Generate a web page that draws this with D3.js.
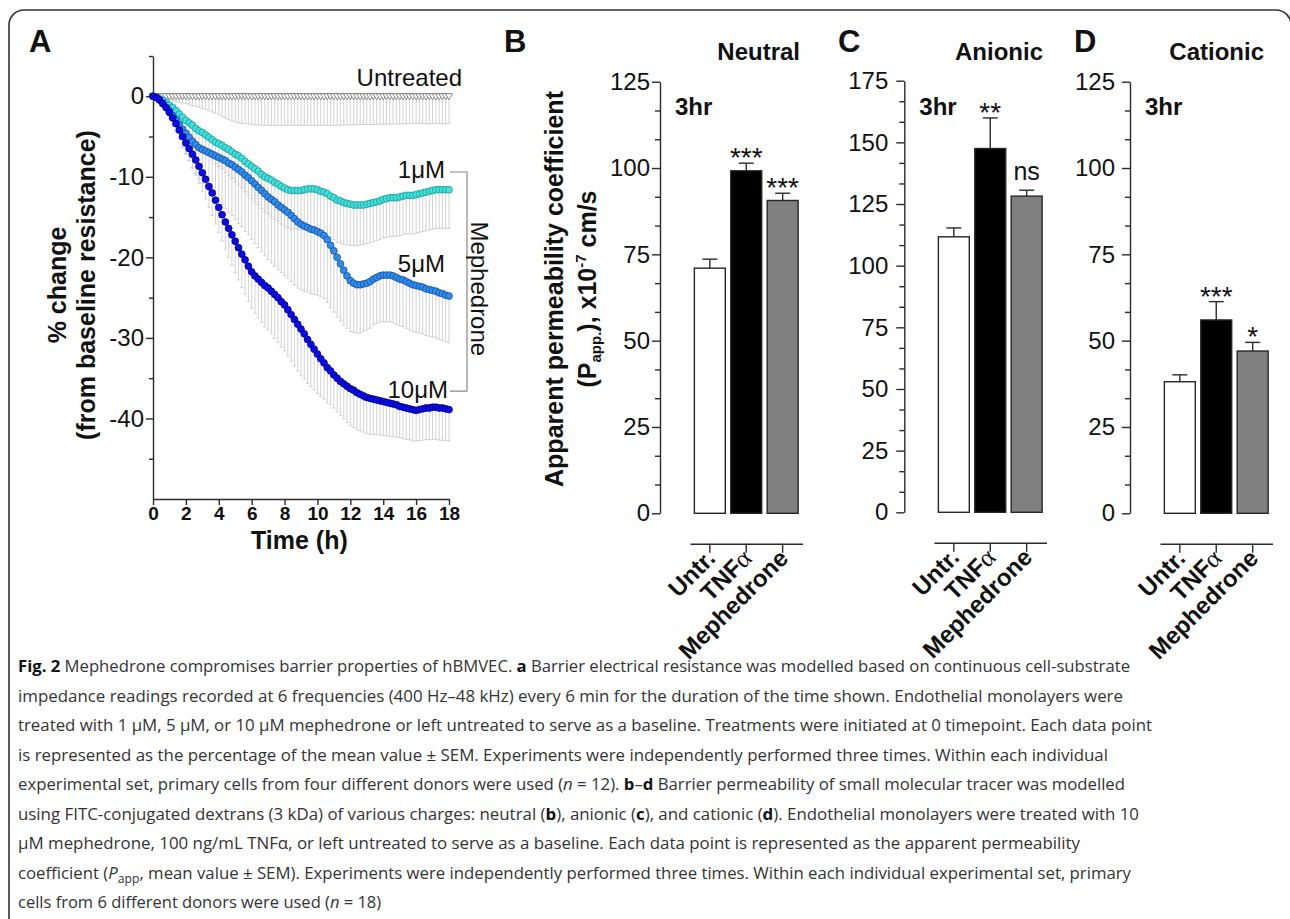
<!DOCTYPE html>
<html><head><meta charset="utf-8">
<script src="https://cdn.jsdelivr.net/npm/d3@7"></script>
<style>
body{margin:0;background:#fff}
svg{display:block}
</style>
</head><body>
<svg id="c" width="1290" height="919" font-family="'Liberation Sans',Arial,Helvetica,sans-serif"></svg>
<script>
// ---------------- DATA ----------------
// sampling grid of the impedance curves (h)
const hours = [0,0.2,0.4,0.6,0.8,1,1.2,1.4,1.6,1.8,
 2,2.2,2.4,2.6,2.8,3,3.2,3.4,3.6,3.8,
 4,4.2,4.4,4.6,4.8,5,5.2,5.4,5.6,5.8,
 6,6.2,6.4,6.6,6.8,7,7.2,7.4,7.6,7.8,
 8,8.2,8.4,8.6,8.8,9,9.2,9.4,9.6,9.8,
 10,10.2,10.4,10.6,10.8,11,11.2,11.4,11.6,11.8,
 12,12.2,12.4,12.6,12.8,13,13.2,13.4,13.6,13.8,
 14,14.2,14.4,14.6,14.8,15,15.2,15.4,15.6,15.8,
 16,16.2,16.4,16.6,16.8,17,17.2,17.4,17.6,17.8,
 18];

const untreatedMean = [0,0,0,0,0,0,0,0,0,0,
 0,0,0,0,0,0,0,0,0,0,
 0,0,0,0,0,0,0,0,0,0,
 0,0,0,0,0,0,0,0,0,0,
 0,0,0,0,0,0,0,0,0,0,
 0,0,0,0,0,0,0,0,0,0,
 0,0,0,0,0,0,0,0,0,0,
 0,0,0,0,0,0,0,0,0,0,
 0,0,0,0,0,0,0,0,0,0,
 0];
const untreatedSem = [0,0.05,0.1,0.2,0.3,0.4,0.5,0.65,0.75,0.85,
 0.9,1.0,1.15,1.25,1.35,1.5,1.65,1.8,1.95,2.1,
 2.3,2.5,2.7,2.9,3.05,3.2,3.3,3.35,3.4,3.45,
 3.5,3.55,3.55,3.6,3.6,3.6,3.6,3.6,3.6,3.6,
 3.6,3.6,3.6,3.6,3.6,3.6,3.6,3.6,3.6,3.6,
 3.6,3.6,3.6,3.6,3.6,3.6,3.6,3.6,3.55,3.55,
 3.55,3.55,3.5,3.5,3.5,3.5,3.5,3.5,3.5,3.5,
 3.45,3.45,3.45,3.45,3.45,3.45,3.4,3.4,3.4,3.4,
 3.4,3.4,3.4,3.4,3.4,3.4,3.4,3.4,3.4,3.4,
 3.4];

const mean1uM = [0,-0.1,-0.3,-0.5,-0.8,-1.1,-1.4,-1.8,-2.2,-2.6,
 -3.0,-3.3,-3.6,-4.0,-4.3,-4.5,-4.8,-5.1,-5.4,-5.7,
 -5.9,-6.1,-6.4,-6.6,-6.9,-7.2,-7.4,-7.7,-8.1,-8.4,
 -8.7,-9.0,-9.3,-9.7,-10.0,-10.2,-10.4,-10.7,-10.9,-11.2,
 -11.4,-11.6,-11.7,-11.7,-11.7,-11.7,-11.6,-11.5,-11.5,-11.5,
 -11.6,-11.8,-11.9,-12.1,-12.4,-12.6,-12.9,-13.0,-13.2,-13.3,
 -13.4,-13.5,-13.5,-13.5,-13.5,-13.4,-13.3,-13.2,-13.1,-13.0,
 -12.8,-12.7,-12.6,-12.6,-12.6,-12.5,-12.4,-12.3,-12.3,-12.3,
 -12.2,-12.1,-12.0,-11.9,-11.8,-11.7,-11.6,-11.6,-11.6,-11.6,
 -11.6];
const sem1uM = [0,0.1,0.15,0.3,0.4,0.5,0.65,0.8,0.9,1.05,
 1.2,1.35,1.5,1.7,1.85,2.0,2.15,2.3,2.5,2.65,
 2.8,2.9,3.05,3.2,3.3,3.4,3.5,3.65,3.75,3.9,
 4.0,4.1,4.15,4.25,4.35,4.4,4.5,4.55,4.6,4.65,
 4.7,4.75,4.8,4.8,4.85,4.9,4.95,5.0,5.0,5.05,
 5.1,5.15,5.15,5.2,5.2,5.2,5.2,5.2,5.2,5.15,
 5.1,5.05,5.0,4.95,4.9,4.9,4.85,4.85,4.8,4.8,
 4.8,4.8,4.8,4.8,4.8,4.8,4.8,4.8,4.8,4.8,
 4.8,4.8,4.8,4.8,4.8,4.8,4.8,4.8,4.8,4.8,
 4.8];

const mean5uM = [0,-0.15,-0.45,-0.9,-1.4,-1.8,-2.4,-2.9,-3.5,-4.1,
 -4.6,-5.1,-5.6,-6.0,-6.4,-6.6,-6.8,-7.0,-7.2,-7.4,
 -7.6,-7.8,-8.0,-8.3,-8.5,-8.8,-9.1,-9.4,-9.8,-10.1,
 -10.5,-10.9,-11.3,-11.7,-12.1,-12.5,-12.8,-13.1,-13.5,-13.8,
 -14.1,-14.4,-14.8,-15.2,-15.6,-15.9,-16.1,-16.3,-16.5,-16.6,
 -16.8,-17.0,-17.3,-17.8,-18.5,-19.2,-20.0,-20.8,-21.6,-22.3,
 -22.9,-23.2,-23.4,-23.4,-23.3,-23.2,-23.0,-22.7,-22.5,-22.3,
 -22.2,-22.2,-22.2,-22.3,-22.5,-22.7,-22.8,-23.0,-23.2,-23.4,
 -23.5,-23.6,-23.7,-23.9,-24.0,-24.1,-24.2,-24.4,-24.5,-24.7,
 -24.8];
const sem5uM = [0,0.15,0.3,0.5,0.75,1.0,1.3,1.6,1.9,2.3,
 2.6,2.9,3.3,3.6,3.9,4.2,4.4,4.7,4.9,5.2,
 5.4,5.6,5.9,6.1,6.3,6.5,6.7,6.8,7.0,7.1,
 7.3,7.4,7.5,7.6,7.7,7.8,7.9,8.0,8.0,8.1,
 8.2,8.2,8.2,8.2,8.2,8.1,8.1,8.0,8.0,8.0,
 7.9,7.9,7.8,7.8,7.8,7.6,7.4,7.1,6.8,6.5,
 6.3,6.1,6.0,6.0,5.9,5.8,5.8,5.7,5.7,5.7,
 5.8,5.8,5.8,5.8,5.8,5.8,5.8,5.8,5.8,5.8,
 5.8,5.8,5.8,5.8,5.8,5.8,5.8,5.8,5.8,5.8,
 5.8];

const mean10uM = [0,-0.15,-0.45,-0.9,-1.4,-2.0,-2.7,-3.4,-4.2,-5.0,
 -5.8,-6.5,-7.2,-7.9,-8.7,-9.5,-10.3,-11.2,-12.0,-12.9,
 -13.8,-14.7,-15.6,-16.4,-17.2,-18.0,-18.8,-19.6,-20.3,-21.1,
 -21.8,-22.3,-22.7,-23.1,-23.5,-23.8,-24.2,-24.6,-25.0,-25.5,
 -25.9,-26.5,-27.1,-27.7,-28.3,-28.9,-29.5,-30.2,-30.8,-31.4,
 -32.0,-32.6,-33.1,-33.7,-34.1,-34.6,-35.0,-35.4,-35.7,-36.0,
 -36.3,-36.5,-36.8,-37.0,-37.2,-37.4,-37.5,-37.6,-37.7,-37.8,
 -37.9,-38.0,-38.1,-38.2,-38.3,-38.5,-38.6,-38.7,-38.8,-38.9,
 -39.0,-38.9,-38.8,-38.7,-38.7,-38.6,-38.6,-38.7,-38.7,-38.8,
 -38.9];
const sem10uM = [0,0.1,0.15,0.3,0.45,0.6,0.75,0.9,1.05,1.2,
 1.3,1.5,1.7,1.9,2.1,2.3,2.45,2.6,2.8,2.95,
 3.1,3.25,3.4,3.6,3.75,3.9,4.0,4.15,4.25,4.4,
 4.5,4.65,4.8,4.95,5.1,5.2,5.3,5.45,5.55,5.65,
 5.7,5.75,5.8,5.8,5.8,5.8,5.6,5.45,5.25,5.05,
 4.9,4.7,4.5,4.35,4.2,4.1,4.2,4.25,4.35,4.5,
 4.6,4.6,4.6,4.55,4.5,4.5,4.45,4.4,4.3,4.25,
 4.2,4.15,4.1,4.05,4.0,3.9,3.9,3.9,3.85,3.85,
 3.8,3.85,3.9,3.9,3.95,4.0,4.0,4.0,4.0,3.95,
 3.9];

const timeTicks = [0,2,4,6,8,10,12,14,16,18];
const resistanceTicks = [0,-10,-20,-30,-40];
const resistanceMinorTicks = [5,-5,-15,-25,-35,-45];

const categories = ["Untr.","TNFα","Mephedrone"];
const neutralMean = [71.0, 99.2, 90.6];
const neutralSem = [2.6, 2.2, 2.1];
const neutralSig = ["", "***", "***"];
const anionicMean = [111.7, 147.5, 128.2];
const anionicSem = [3.6, 12.4, 2.4];
const anionicSig = ["", "**", "ns"];
const cationicMean = [38.1, 56.0, 47.0];
const cationicSem = [2.0, 5.3, 2.5];
const cationicSig = ["", "***", "*"];
const ticks125 = [0,25,50,75,100,125];
const ticks175 = [0,25,50,75,100,125,150,175];

const captionLines = [
 [["Fig. 2","b"],[" Mephedrone compromises barrier properties of hBMVEC. ",""],["a","b"],[" Barrier electrical resistance was modelled based on continuous cell-substrate",""]],
 [["impedance readings recorded at 6 frequencies (400 Hz–48 kHz) every 6 min for the duration of the time shown. Endothelial monolayers were",""]],
 [["treated with 1 μM, 5 μM, or 10 μM mephedrone or left untreated to serve as a baseline. Treatments were initiated at 0 timepoint. Each data point",""]],
 [["is represented as the percentage of the mean value ± SEM. Experiments were independently performed three times. Within each individual",""]],
 [["experimental set, primary cells from four different donors were used (",""],["n","i"],[" = 12). ",""],["b","b"],["–",""],["d","b"],[" Barrier permeability of small molecular tracer was modelled",""]],
 [["using FITC-conjugated dextrans (3 kDa) of various charges: neutral (",""],["b","b"],["), anionic (",""],["c","b"],["), and cationic (",""],["d","b"],["). Endothelial monolayers were treated with 10",""]],
 [["μM mephedrone, 100 ng/mL TNFα, or left untreated to serve as a baseline. Each data point is represented as the apparent permeability",""]],
 [["coefficient (",""],["P","i"],["app","sub"],[", mean value ± SEM). Experiments were independently performed three times. Within each individual experimental set, primary","after"]],
 [["cells from 6 different donors were used (",""],["n","i"],[" = 18)",""]]
];
// right end of each justified caption line (null = natural width)
const captionRight = [1130,1123,1152,1108,1125,1139,1080,1131,null];

// ---------------- DRAW ----------------
const svg = d3.select("#c");
const AX = "#2b2b2b";
const SANS = "'Liberation Sans',Arial,Helvetica,sans-serif";

svg.append("rect").attr("x",9).attr("y",10).attr("width",1282).attr("height",930)
  .attr("rx",15).attr("fill","none").attr("stroke","#333").attr("stroke-width",1.6);

function styleAxis(g, fs, bold){
  g.selectAll("path").attr("stroke",AX).attr("stroke-width",1.4);
  g.selectAll("line").attr("stroke",AX).attr("stroke-width",1.4);
  g.attr("font-family",SANS);
  g.selectAll("text").attr("fill","#111").attr("font-size",fs)
    .attr("font-weight",bold?"bold":"normal");
}

// ---- Panel A ----
const xA = d3.scaleLinear([0,18],[153,449]);
const yA = d3.scaleLinear([-50,5],[499,56]);
const gA = svg.append("g");

const yAx = gA.append("g").attr("transform",`translate(${xA(0)},0)`)
  .call(d3.axisLeft(yA).tickValues(resistanceTicks).tickSize(7).tickPadding(2).tickSizeOuter(0).tickFormat(d=>String(d)));
styleAxis(yAx,24,false);
const yAm = gA.append("g").attr("transform",`translate(${xA(0)},0)`)
  .call(d3.axisLeft(yA).tickValues(resistanceMinorTicks).tickSize(4).tickFormat(""));
yAm.select("path").remove();
styleAxis(yAm,24,false);

const xAx = gA.append("g").attr("transform",`translate(0,${yA(-50)})`)
  .call(d3.axisBottom(xA).tickValues(timeTicks).tickSize(6).tickPadding(2).tickSizeOuter(0).tickFormat(d=>String(d)));
styleAxis(xAx,19,true);

gA.append("text").attr("x",xA(8.9)).attr("y",549).attr("text-anchor","middle")
  .attr("font-size",25).attr("font-weight","bold").attr("fill","#111").text("Time (h)");
gA.append("text").attr("transform","translate(66,285) rotate(-90)").attr("text-anchor","middle")
  .attr("font-size",25).attr("font-weight","bold").attr("fill","#111").text("% change");
gA.append("text").attr("transform","translate(95,285) rotate(-90)").attr("text-anchor","middle")
  .attr("font-size",25).attr("font-weight","bold").attr("fill","#111").text("(from baseline resistance)");
svg.append("text").attr("x",29).attr("y",52).attr("font-size",31).attr("font-weight","bold").attr("fill","#111").text("A");

const seriesA = [
  {mean:untreatedMean, sem:untreatedSem, tri:true, fill:"#ffffff", stroke:"#7d7d7d"},
  {mean:mean1uM, sem:sem1uM, fill:"#3fe3dc", stroke:"#1e9895"},
  {mean:mean5uM, sem:sem5uM, fill:"#2b8ef0", stroke:"#1b4d9c"},
  {mean:mean10uM, sem:sem10uM, fill:"#0a0af5", stroke:"#00006e"}
];
const ebG = gA.append("g").attr("stroke","#cdcdcd").attr("stroke-width",0.9);
seriesA.forEach(s=>{
  const pts = hours.map((t,i)=>({t, m:s.mean[i], e:s.sem[i]}));
  ebG.append("g").selectAll("line").data(pts).join("line")
    .attr("x1",d=>xA(d.t)).attr("x2",d=>xA(d.t))
    .attr("y1",d=>yA(d.m)).attr("y2",d=>yA(d.m-d.e));
  ebG.append("g").selectAll("line").data(pts).join("line")
    .attr("x1",d=>xA(d.t)-1.8).attr("x2",d=>xA(d.t)+1.8)
    .attr("y1",d=>yA(d.m-d.e)).attr("y2",d=>yA(d.m-d.e));
});
seriesA.forEach(s=>{
  const pts = hours.map((t,i)=>({t, m:s.mean[i]}));
  const g = gA.append("g");
  if(s.tri){
    const sym = d3.symbol(d3.symbolTriangle).size(22);
    g.selectAll("path").data(pts).join("path").attr("d",sym)
      .attr("transform",d=>`translate(${xA(d.t)},${yA(d.m)-0.5}) rotate(180)`)
      .attr("fill",s.fill).attr("stroke",s.stroke).attr("stroke-width",0.9);
  } else {
    g.selectAll("circle").data(pts).join("circle")
      .attr("cx",d=>xA(d.t)).attr("cy",d=>yA(d.m)).attr("r",3.4)
      .attr("fill",s.fill).attr("stroke",s.stroke).attr("stroke-width",0.8);
  }
});

// series labels & bracket
const lab = (txt,x,y)=>gA.append("text").attr("x",x).attr("y",y).attr("text-anchor","end")
  .attr("font-size",24).attr("fill","#111").text(txt);
lab("Untreated", 462, yA(1.28));
lab("1μM", xA(18)-4, yA(-10.14));
lab("5μM", xA(18)-4, yA(-21.8));
lab("10μM", xA(18)-1, yA(-37.4));
gA.append("path").attr("fill","none").attr("stroke","#888").attr("stroke-width",1.2)
  .attr("d",`M${xA(18)+1},${yA(-9.4)} H467 V${yA(-36.6)} H${xA(18)+1}`);
gA.append("text").attr("transform",`translate(471,${yA(-23.9)}) rotate(90)`).attr("text-anchor","middle")
  .attr("font-size",24).attr("fill","#111").text("Mephedrone");

// ---- Bar panels ----
function barPanel(o){
  const g = svg.append("g");
  const y = d3.scaleLinear([0,o.max],[o.y0,o.yTop]);
  const x = d3.scaleBand(categories,[o.xStart,o.xStart+112.5]).paddingInner(0.15).paddingOuter(0.12);
  const ya = g.append("g").attr("transform",`translate(${o.axisX},0)`)
    .call(d3.axisLeft(y).tickValues(o.ticks).tickSize(8).tickPadding(o.pad).tickSizeOuter(0).tickFormat(d=>String(d)));
  styleAxis(ya,24,false);
  const minor = [];
  for(let i=0;i<o.ticks.length-1;i++){ minor.push(o.ticks[i]+25/3, o.ticks[i]+50/3); }
  const ym = g.append("g").attr("transform",`translate(${o.axisX},0)`)
    .call(d3.axisLeft(y).tickValues(minor).tickSize(5).tickFormat(""));
  ym.select("path").remove(); styleAxis(ym,24,false);

  const fills = ["#ffffff","#000000","#808080"];
  const data = categories.map((c,i)=>({c, m:o.mean[i], e:o.sem[i], s:o.sig[i], f:fills[i]}));
  const cx = d=>x(d.c)+x.bandwidth()/2;
  g.append("g").selectAll("line").data(data).join("line")
    .attr("x1",cx).attr("x2",cx)
    .attr("y1",d=>y(d.m)).attr("y2",d=>y(d.m+d.e)).attr("stroke",AX).attr("stroke-width",1.4);
  g.append("g").selectAll("line").data(data).join("line")
    .attr("x1",d=>cx(d)-7.5).attr("x2",d=>cx(d)+7.5)
    .attr("y1",d=>y(d.m+d.e)).attr("y2",d=>y(d.m+d.e)).attr("stroke",AX).attr("stroke-width",1.4);
  g.append("g").selectAll("rect").data(data).join("rect")
    .attr("x",d=>x(d.c)).attr("width",x.bandwidth())
    .attr("y",d=>y(d.m)).attr("height",d=>y(0)-y(d.m))
    .attr("fill",d=>d.f).attr("stroke","#262626").attr("stroke-width",1.4);
  g.append("g").selectAll("text").data(data.filter(d=>d.s)).join("text")
    .attr("x",cx)
    .attr("y",d=>d.s==="ns" ? y(d.m+d.e)-10 : y(d.m+d.e)+4)
    .attr("text-anchor","middle").attr("fill","#111")
    .attr("font-size",d=>d.s==="ns"?25:28).text(d=>d.s);
  const axY = o.y0+30.5;
  const xa = g.append("g").attr("transform",`translate(0,${axY})`)
    .call(d3.axisBottom(x).tickSize(9).tickSizeOuter(0).tickFormat(""));
  styleAxis(xa,20,true);
  const cl = g.append("g").selectAll("text").data(categories).join("text")
    .attr("transform",c=>`translate(${x(c)+x.bandwidth()/2+7},${axY+16}) rotate(-45)`)
    .attr("text-anchor","end").attr("font-size",24).attr("font-weight","bold").attr("fill","#111");
  cl.each(function(c){
    const t = d3.select(this);
    if(c==="TNFα"){
      t.append("tspan").text("TNF");
      t.append("tspan").attr("font-weight","normal").attr("font-family","'Liberation Serif','DejaVu Serif',serif").attr("font-size",26).text("α");
    } else t.text(c);
  });
  g.append("text").attr("x",o.titleRight).attr("y",60).attr("text-anchor","end")
    .attr("font-size",24).attr("font-weight","bold").attr("fill","#111").text(o.title);
  g.append("text").attr("x",o.axisX+15).attr("y",115)
    .attr("font-size",24).attr("font-weight","bold").attr("fill","#111").text("3hr");
  g.append("text").attr("x",o.letterX).attr("y",52)
    .attr("font-size",31).attr("font-weight","bold").attr("fill","#111").text(o.letter);
}

barPanel({axisX:660, y0:513.3, yTop:81.7, max:125, ticks:ticks125, pad:2, xStart:690,
  mean:neutralMean, sem:neutralSem, sig:neutralSig, title:"Neutral", titleRight:800, letterX:504, letter:"B"});
barPanel({axisX:904.3, y0:512.3, yTop:80.7, max:175, ticks:ticks175, pad:8, xStart:934,
  mean:anionicMean, sem:anionicSem, sig:anionicSig, title:"Anionic", titleRight:1043, letterX:838, letter:"C"});
barPanel({axisX:1130, y0:513.3, yTop:81.7, max:125, ticks:ticks125, pad:7, xStart:1160,
  mean:cationicMean, sem:cationicSem, sig:cationicSig, title:"Cationic", titleRight:1264, letterX:1074, letter:"D"});

// B y-axis title
svg.append("text").attr("transform","translate(563,289) rotate(-90)").attr("text-anchor","middle")
  .attr("font-size",25).attr("font-weight","bold").attr("fill","#111").text("Apparent permeability coefficient");
const t2 = svg.append("text").attr("transform","translate(596,289) rotate(-90)").attr("text-anchor","middle")
  .attr("font-size",25).attr("font-weight","bold").attr("fill","#111");
t2.append("tspan").text("(P");
t2.append("tspan").attr("font-size",15).attr("dy",5).text("app.");
t2.append("tspan").attr("dy",-5).text("), x10");
t2.append("tspan").attr("font-size",15).attr("dy",-10).text("-7");
t2.append("tspan").attr("dy",10).text(" cm/s");

// ---- Caption ----
const CAPF = "'Open Sans','Noto Sans',sans-serif";
const cap = svg.append("g").attr("font-family",CAPF);
captionLines.forEach((segs,li)=>{
  const t = cap.append("text").attr("x",18).attr("y",672+li*29.5)
    .attr("font-size",16.5).attr("fill","#333").attr("font-family",CAPF);
  if(captionRight[li]!==null)
    t.attr("textLength",captionRight[li]-18).attr("lengthAdjust","spacingAndGlyphs");
  segs.forEach(([txt,st])=>{
    const sp = t.append("tspan").text(txt);
    if(st==="b") sp.attr("font-weight","bold").attr("fill","#111");
    if(st==="i") sp.attr("font-style","italic");
    if(st==="sub") sp.attr("font-size",12).attr("dy",4);
    if(st==="after") sp.attr("dy",-4);
  });
});
</script>
</body></html>
